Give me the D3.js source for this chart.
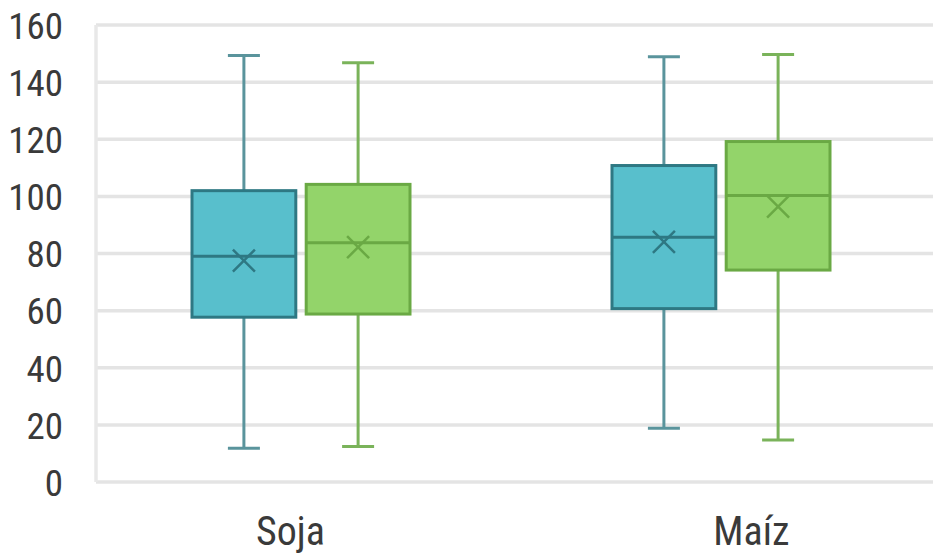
<!DOCTYPE html>
<html>
<head>
<meta charset="utf-8">
<script src="https://cdn.jsdelivr.net/npm/d3@7"></script>
<style>
  html, body { margin: 0; padding: 0; background: #ffffff; }
  svg { display: block; }
  text { font-family: 'Liberation Sans Narrow', 'Roboto Condensed', Roboto, sans-serif; fill: #3a3a3a; }
</style>
</head>
<body>
<svg id="chart" width="933" height="556"></svg>
<script>
// ---- data ----
const categories = ["Soja", "Maíz"];
const seriesNames = ["Serie 1", "Serie 2"];
const yTicks = [0, 20, 40, 60, 80, 100, 120, 140, 160];

const s1Min    = [11.8, 18.8];
const s1Q1     = [57.7, 60.7];
const s1Median = [79.0, 85.7];
const s1Mean   = [77.5, 84.1];
const s1Q3     = [102.0, 110.8];
const s1Max    = [149.3, 148.9];

const s2Min    = [12.4, 14.7];
const s2Q1     = [58.8, 74.2];
const s2Median = [83.8, 100.3];
const s2Mean   = [82.2, 96.4];
const s2Q3     = [104.2, 119.2];
const s2Max    = [146.8, 149.7];

const fills   = ["#58bfcc", "#93d46a"];
const strokes = ["#2e7883", "#6aa944"];
const whiskerColors = ["#5a949c", "#7ab35a"];

// ---- build records ----
const seriesData = [
  {min: s1Min, q1: s1Q1, med: s1Median, mean: s1Mean, q3: s1Q3, max: s1Max},
  {min: s2Min, q1: s2Q1, med: s2Median, mean: s2Mean, q3: s2Q3, max: s2Max}
];
const boxes = [];
categories.forEach((c, ci) => {
  seriesNames.forEach((s, si) => {
    const d = seriesData[si];
    boxes.push({cat: c, series: s, si,
      min: d.min[ci], q1: d.q1[ci], med: d.med[ci], mean: d.mean[ci], q3: d.q3[ci], max: d.max[ci]});
  });
});

// ---- layout ----
const svg = d3.select("#chart");
const plotLeft = 96, plotRight = 933;
const y = d3.scaleLinear().domain([0, 160]).range([482, 25]);
const x = d3.scaleBand().domain(categories).range([91, 931]).paddingInner(0).paddingOuter(0);
const groupWidth = 218;
const xs = d3.scaleBand().domain(seriesNames)
  .range([(x.bandwidth() - groupWidth) / 2, (x.bandwidth() + groupWidth) / 2])
  .paddingInner(0.091);
const xLabel = d3.scalePoint().domain(categories).range([290, 751]);

// gridlines
svg.append("g").selectAll("line").data(yTicks).join("line")
  .attr("x1", plotLeft).attr("x2", plotRight)
  .attr("y1", d => y(d)).attr("y2", d => y(d))
  .attr("stroke", "#e4e4e4").attr("stroke-width", 3.5);

// left axis line
svg.append("line")
  .attr("x1", plotLeft).attr("x2", plotLeft)
  .attr("y1", y(160)).attr("y2", y(0))
  .attr("stroke", "#e8e8e8").attr("stroke-width", 3.5);

// y axis labels
const yAxis = d3.axisLeft(y).tickValues(yTicks).tickSize(0).tickPadding(0);
const yg = svg.append("g").attr("transform", "translate(63,0)").call(yAxis);
yg.select(".domain").remove();
yg.selectAll("text").attr("x", 0).attr("dy", "0.36em")
  .style("font-size", "37px").attr("fill", "#3a3a3a");

// x axis labels
const xAxis = d3.axisBottom(xLabel).tickSize(0).tickPadding(0);
const xg = svg.append("g").attr("transform", "translate(0,545)").call(xAxis);
xg.select(".domain").remove();
xg.selectAll("text").attr("y", 0).attr("dy", 0)
  .style("font-size", "40px").attr("fill", "#3a3a3a");

// boxes
const g = svg.append("g");
const bg = g.selectAll("g.box").data(boxes).join("g").attr("class", "box")
  .attr("transform", d => `translate(${x(d.cat) + xs(d.series)},0)`);
const bw = xs.bandwidth();
const capW = 32;

// whiskers
bg.append("line").attr("x1", bw / 2).attr("x2", bw / 2)
  .attr("y1", d => y(d.max)).attr("y2", d => y(d.q3))
  .attr("stroke", d => whiskerColors[d.si]).attr("stroke-width", 3);
bg.append("line").attr("x1", bw / 2).attr("x2", bw / 2)
  .attr("y1", d => y(d.q1)).attr("y2", d => y(d.min))
  .attr("stroke", d => whiskerColors[d.si]).attr("stroke-width", 3);
// caps
bg.append("line").attr("x1", bw / 2 - capW / 2).attr("x2", bw / 2 + capW / 2)
  .attr("y1", d => y(d.max)).attr("y2", d => y(d.max))
  .attr("stroke", d => whiskerColors[d.si]).attr("stroke-width", 3);
bg.append("line").attr("x1", bw / 2 - capW / 2).attr("x2", bw / 2 + capW / 2)
  .attr("y1", d => y(d.min)).attr("y2", d => y(d.min))
  .attr("stroke", d => whiskerColors[d.si]).attr("stroke-width", 3);
// box
bg.append("rect").attr("x", 0).attr("width", bw)
  .attr("y", d => y(d.q3)).attr("height", d => y(d.q1) - y(d.q3))
  .attr("fill", d => fills[d.si]).attr("stroke", d => strokes[d.si]).attr("stroke-width", 3);
// median
bg.append("line").attr("x1", 0).attr("x2", bw)
  .attr("y1", d => y(d.med)).attr("y2", d => y(d.med))
  .attr("stroke", d => strokes[d.si]).attr("stroke-width", 3);
// mean X
const mk = 11;
bg.append("path")
  .attr("d", d => {
    const cx = bw / 2, cy = y(d.mean);
    return `M${cx - mk},${cy - mk}L${cx + mk},${cy + mk}M${cx - mk},${cy + mk}L${cx + mk},${cy - mk}`;
  })
  .attr("fill", "none").attr("stroke", d => strokes[d.si]).attr("stroke-width", 2.5);
</script>
</body>
</html>
